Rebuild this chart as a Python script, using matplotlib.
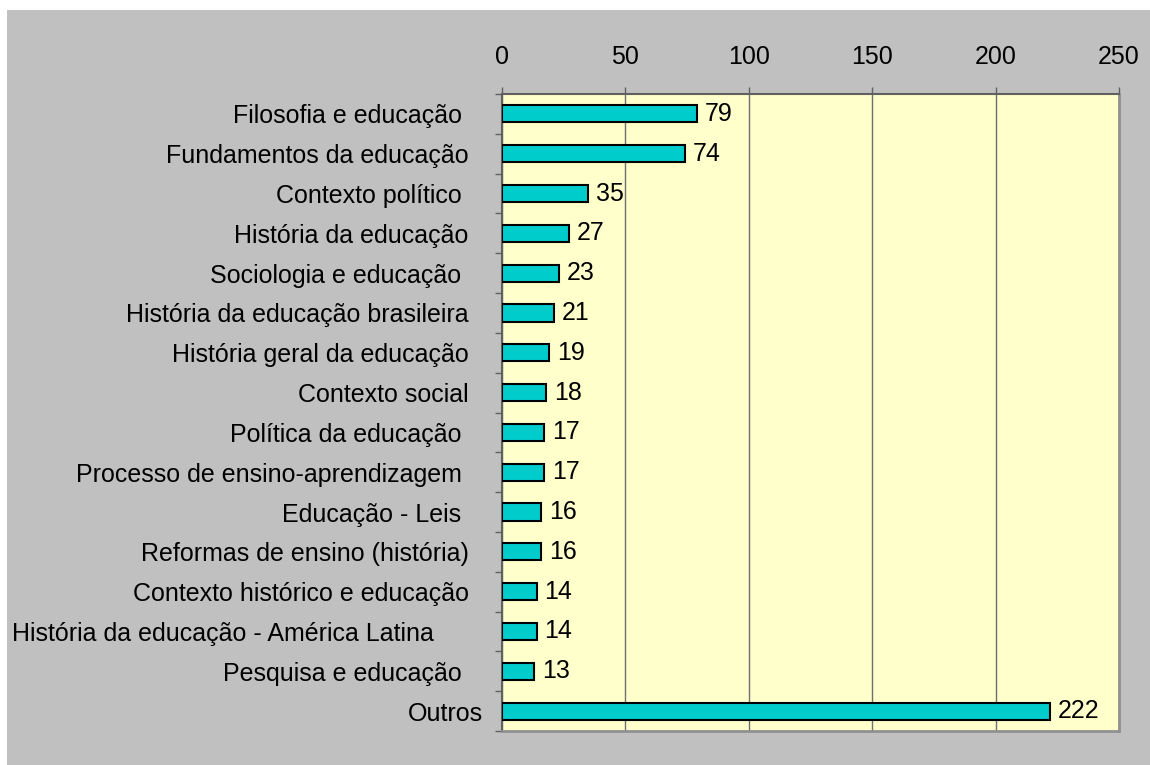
import matplotlib
matplotlib.use('Agg')
import matplotlib.pyplot as plt
from matplotlib.patches import Rectangle
import numpy as np

categories = [
    'Filosofia e educação   ',
    'Fundamentos da educação  ',
    'Contexto político   ',
    'História da educação  ',
    'Sociologia e educação   ',
    'História da educação brasileira  ',
    'História geral da educação  ',
    'Contexto social  ',
    'Política da educação   ',
    'Processo de ensino-aprendizagem   ',
    'Educação - Leis   ',
    'Reformas de ensino (história)  ',
    'Contexto histórico e educação  ',
    'História da educação - América Latina       ',
    'Pesquisa e educação   ',
    'Outros',
]
values = [79, 74, 35, 27, 23, 21, 19, 18, 17, 17, 16, 16, 14, 14, 13, 222]
x_ticks = [0, 50, 100, 150, 200, 250]

plt.rcParams['font.family'] = ['Liberation Sans', 'DejaVu Sans']
FS = 18

fig = plt.figure(figsize=(11.5, 7.65), dpi=100)
fig.patch.set_facecolor('white')
fig.patches.append(Rectangle((7 / 1150, 0), 1, 1 - 10 / 765,
                             transform=fig.transFigure, facecolor='#c0c0c0',
                             edgecolor='none', zorder=-10))

ax = fig.add_axes([502 / 1150, 34 / 765, 617 / 1150, 637 / 765])
ax.set_facecolor('#ffffcc')

y = np.arange(len(categories))
ax.barh(y, values, height=0.43, color='#00cccc', edgecolor='black',
        linewidth=1.5, zorder=3)
for yi, v in zip(y, values):
    ax.text(v + 3.2, yi, str(v), va='center', ha='left', fontsize=FS, zorder=4)

ax.set_xlim(0, 250)
ax.set_ylim(len(categories) - 0.5, -0.5)
ax.xaxis.tick_top()
ax.set_xticks(x_ticks)
ax.set_xticklabels([str(t) for t in x_ticks])
ax.tick_params(axis='x', top=True, bottom=False, length=5, width=1,
               color='#606060', labelsize=FS, pad=13)
ax.grid(axis='x', color='#707070', linewidth=1, zorder=1)

# category labels centered on bars, tick marks between categories
ax.set_yticks(y)
ax.set_yticklabels(categories)
ax.tick_params(axis='y', length=0, labelsize=FS, pad=14)
ax.set_yticks(np.arange(-0.5, len(categories)), minor=True)
ax.tick_params(axis='y', which='minor', length=5, width=1, color='#606060')

for side in ['top', 'left']:
    ax.spines[side].set_color('#606060')
    ax.spines[side].set_linewidth(1.5)
for side in ['right', 'bottom']:
    ax.spines[side].set_color('#909090')
    ax.spines[side].set_linewidth(2)

fig.savefig('out.png', dpi=100, facecolor=fig.get_facecolor())
